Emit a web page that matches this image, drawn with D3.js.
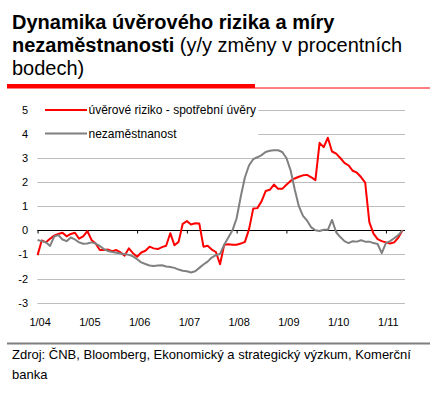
<!DOCTYPE html>
<html>
<head>
<meta charset="utf-8">
<script src="https://cdn.jsdelivr.net/npm/d3@7"></script>
<style>
body { margin: 0; background: #fff; }
svg { display: block; font-family: "Liberation Sans", Arial, sans-serif; }
</style>
</head>
<body>
<div id="chart"></div>
<script>
// monthly data, 1/04 .. 5/11 (y/y change in percentage points)
var yearLabels = ["1/04", "1/05", "1/06", "1/07", "1/08", "1/09", "1/10", "1/11"];
var yTicks = [-3, -2, -1, 0, 1, 2, 3, 4, 5];
var seriesNames = ["úvěrové riziko - spotřební úvěry", "nezaměstnanost"];
var creditRisk = [
	-1.03, -0.42, -0.5, -0.35, -0.22, -0.15, -0.1, -0.25, -0.15, -0.1, -0.35, -0.25,
	-0.03, -0.4, -0.55, -0.82, -0.82, -0.8, -0.87, -0.82, -0.92, -1.05, -0.75, -0.95,
	-1.1, -0.92, -0.85, -0.68, -0.75, -0.78, -0.7, -0.64, -0.12, -0.62, -0.48, 0.27,
	0.38, 0.24, 0.29, 0.28, -0.68, -0.64, -0.8, -0.9, -1.41, -0.6, -0.58, -0.6,
	-0.6, -0.55, -0.48, 0.05, 0.9, 0.92, 1.2, 1.63, 1.68, 1.9, 1.72, 1.72,
	1.89, 2.05, 2.15, 2.22, 2.28, 2.3, 2.2, 2.08, 3.63, 3.45, 3.84, 3.27,
	3.18, 3.0, 2.8, 2.69, 2.47, 2.39, 2.21, 1.98, 0.34, -0.14, -0.37, -0.45,
	-0.5, -0.55, -0.5, -0.3, 0.0
];
var unemployment = [
	-0.4, -0.45, -0.5, -0.65, -0.26, -0.2, -0.38, -0.45, -0.3, -0.38, -0.5, -0.56,
	-0.55, -0.5, -0.55, -0.65, -0.78, -0.86, -0.9, -0.93, -0.96, -0.98, -1.02, -1.08,
	-1.2, -1.33, -1.4, -1.46, -1.48, -1.46, -1.45, -1.5, -1.52, -1.56, -1.63, -1.68,
	-1.7, -1.75, -1.7, -1.56, -1.42, -1.3, -1.13, -1.03, -0.98, -0.6, -0.3, 0.0,
	0.5, 1.4, 2.2, 2.7, 2.95, 3.03, 3.12, 3.25, 3.3, 3.32, 3.32, 3.25,
	3.0, 2.5, 1.7, 1.0, 0.6, 0.4, 0.12, 0.0, -0.03, 0.02, 0.02, 0.43,
	-0.08, -0.28, -0.45, -0.53, -0.45, -0.47, -0.41, -0.47, -0.47, -0.53, -0.57, -0.95,
	-0.53, -0.45, -0.33, -0.2, 0.0
];
var seriesColors = ["#ff0000", "#808080"];

var width = 436, height = 399;
var svg = d3.select("#chart").append("svg").attr("width", width).attr("height", height);

// title block
var title = svg.append("g").attr("font-size", "20px").attr("fill", "#000");
var t1 = title.append("text").attr("x", 12).attr("y", 29);
t1.append("tspan").attr("font-weight", "bold").text("Dynamika úvěrového rizika a míry");
var t2 = title.append("text").attr("x", 12).attr("y", 52);
t2.append("tspan").attr("font-weight", "bold").text("nezaměstnanosti");
t2.append("tspan").text(" (y/y změny v procentních");
title.append("text").attr("x", 12).attr("y", 75).text("bodech)");
svg.append("line").attr("x1", 7).attr("x2", 430).attr("y1", 88).attr("y2", 88).attr("stroke", "#ff0000").attr("stroke-width", 1);
svg.append("rect").attr("x", 7).attr("y", 84).attr("width", 248).attr("height", 4).attr("fill", "#ff0000");

// scales
var x = d3.scaleLinear().domain([0, creditRisk.length - 1]).range([37.6, 402.5]);
var y = d3.scaleLinear().domain([-3, 5]).range([302.6, 109.8]);
var left = 37.3, right = 405;

// gridlines
svg.append("g").selectAll("line").data(yTicks.filter(function(d){ return d != 0; })).enter().append("line")
	.attr("x1", left).attr("x2", right)
	.attr("y1", function(d){ return Math.round(y(d)) + 0.5; })
	.attr("y2", function(d){ return Math.round(y(d)) + 0.5; })
	.attr("stroke", "#bdbdbd").attr("stroke-width", 1);

// y labels
var yAxis = d3.axisLeft(y).tickValues(yTicks).tickSize(0).tickPadding(0).tickFormat(function(d){ return d < 0 ? "-" + Math.abs(d) : d; });
svg.append("g").attr("transform", "translate(28,0)").call(yAxis)
	.call(function(g){ g.select(".domain").remove(); })
	.selectAll("text").attr("font-size", "11px").attr("font-family", "Liberation Sans, Arial, sans-serif").attr("fill", "#000");

// zero axis with tick marks
var tickIdx = yearLabels.map(function(d, i){ return i * 12; });
var xAxis = d3.axisBottom(x).tickValues(tickIdx).tickSize(3).tickSizeOuter(0).tickFormat("");
var zero = svg.append("g").attr("transform", "translate(0," + (Math.round(y(0)) + 0.5) + ")").call(xAxis);
zero.select(".domain").attr("d", "M" + left + ",0H" + right).attr("stroke", "#000");
zero.selectAll(".tick line").attr("stroke", "#000");

// category labels at bottom
var labelAxis = d3.axisBottom(x).tickValues(tickIdx).tickSize(0).tickPadding(0)
	.tickFormat(function(d, i){ return yearLabels[i]; });
var lab = svg.append("g").attr("transform", "translate(2,318)").call(labelAxis);
lab.select(".domain").remove();
lab.selectAll("text").attr("font-size", "11px").attr("font-family", "Liberation Sans, Arial, sans-serif").attr("fill", "#000");

// series lines
var line = d3.line().x(function(d, i){ return x(i); }).y(function(d){ return y(d); });
[creditRisk, unemployment].forEach(function(s, k){
	svg.append("path").datum(s).attr("d", line).attr("fill", "none")
		.attr("stroke", seriesColors[k]).attr("stroke-width", 2).attr("stroke-linejoin", "round");
});
// legend draws on top of the series, covering gridlines 4 and 5
svg.append("rect").attr("x", left).attr("y", 101).attr("width", 221).attr("height", 44).attr("fill", "#fff");
var legend = svg.append("g");
var legY = [110, 133.5];
seriesNames.forEach(function(name, k){
	legend.append("line").attr("x1", 45).attr("x2", 87).attr("y1", legY[k]).attr("y2", legY[k])
		.attr("stroke", seriesColors[k]).attr("stroke-width", 2);
	legend.append("text").attr("x", 88.5).attr("y", legY[k] + 4).attr("font-size", "12px").attr("fill", "#000").text(name);
});

// source footer
svg.append("line").attr("x1", 7).attr("x2", 430).attr("y1", 343.5).attr("y2", 343.5).attr("stroke", "#7f7f7f").attr("stroke-width", 2);
var src = svg.append("g").attr("font-size", "13px").attr("fill", "#000");
src.append("text").attr("x", 12).attr("y", 359).text("Zdroj: ČNB, Bloomberg, Ekonomický a strategický výzkum, Komerční");
src.append("text").attr("x", 12).attr("y", 379).text("banka");
</script>
</body>
</html>
